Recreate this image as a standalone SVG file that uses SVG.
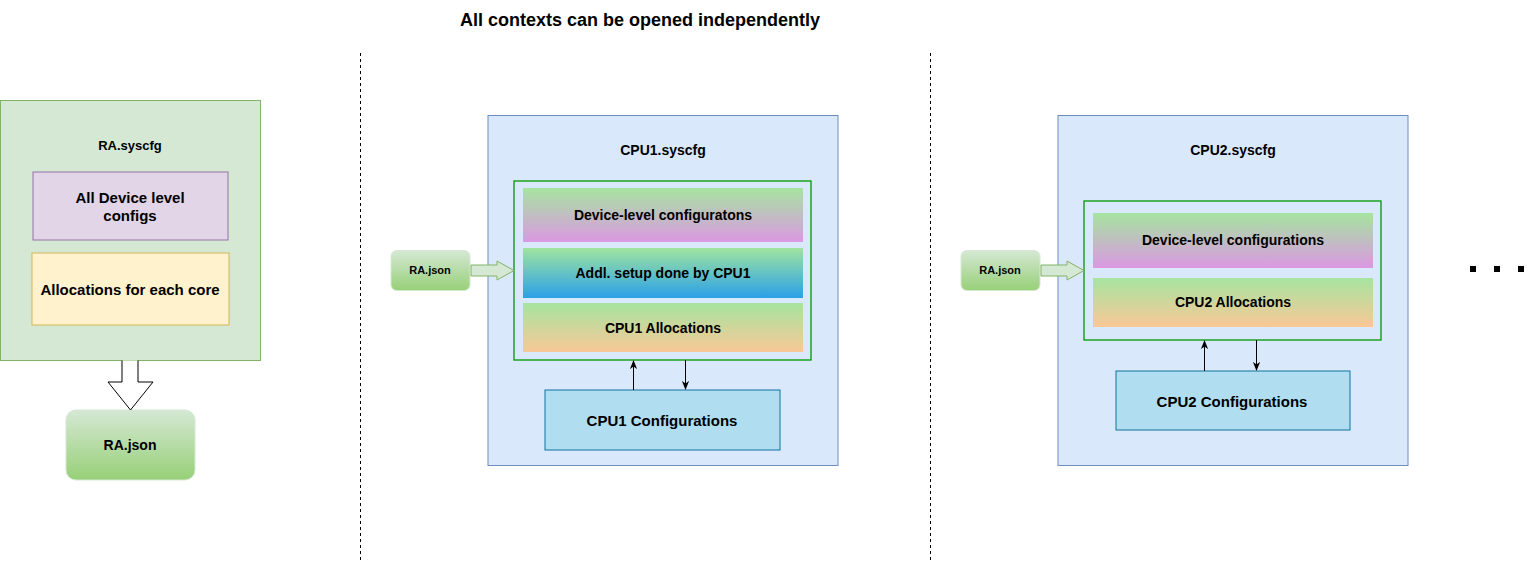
<svg xmlns="http://www.w3.org/2000/svg" width="1535" height="562" viewBox="0 0 1535 562">
<style>
text{font-family:"Liberation Sans",Arial,sans-serif;font-weight:bold;fill:#000;text-anchor:middle;dominant-baseline:central}
.sep{stroke:#000;stroke-width:1;stroke-dasharray:3,3}
.outer{fill:#dae8fc;stroke:#6c8ebf}
.grp{fill:none;stroke:#009900;stroke-width:1.3}
.conf{fill:#b1ddf0;stroke:#10739e}
.conn{stroke:#000;stroke-width:1;fill:none}
.blk{fill:#d5e8d4;stroke:#82b366}
</style>
<defs>
<linearGradient id="gGreen" x1="0" y1="0" x2="0" y2="1"><stop offset="0" stop-color="#d5e8d4"/><stop offset="1" stop-color="#97d077"/></linearGradient>
<linearGradient id="gDev" x1="0" y1="0" x2="0" y2="1"><stop offset="0" stop-color="#a6e4a0"/><stop offset="1" stop-color="#db98e2"/></linearGradient>
<linearGradient id="gAddl" x1="0" y1="0" x2="0" y2="1"><stop offset="0" stop-color="#9fe4a0"/><stop offset="1" stop-color="#2ba0e8"/></linearGradient>
<linearGradient id="gAlloc" x1="0" y1="0" x2="0" y2="1"><stop offset="0" stop-color="#a6e4a0"/><stop offset="1" stop-color="#f9c896"/></linearGradient>
<marker id="ah" viewBox="0 0 10 10" refX="9" refY="5" markerWidth="9" markerHeight="9" markerUnits="userSpaceOnUse" orient="auto"><path d="M0,1 L10,5 L0,9 L3,5 Z" fill="#000"/></marker>
</defs>

<text x="640" y="20" font-size="18">All contexts can be opened independently</text>
<line class="sep" x1="360.5" y1="53" x2="360.5" y2="560"/>
<line class="sep" x1="930.5" y1="53" x2="930.5" y2="560"/>

<g id="ra-syscfg">
<rect x="0.5" y="100.5" width="260" height="260" fill="#d5e8d4" stroke="#82b366"/>
<text x="130" y="145" font-size="13">RA.syscfg</text>
</g>
<g id="all-device">
<rect x="33" y="172" width="195" height="68" fill="#e1d5e7" stroke="#9673a6"/>
<text x="130" y="197" font-size="15">All Device level</text>
<text x="130" y="215" font-size="15">configs</text>
</g>
<g id="allocations-core">
<rect x="32" y="253" width="197" height="72" fill="#fff2cc" stroke="#d6b656"/>
<text x="130" y="289" font-size="15">Allocations for each core</text>
</g>
<g id="ra-json-main">
<rect x="66" y="410" width="129" height="70" rx="10" fill="url(#gGreen)" stroke="#d5e8d4"/>
<text x="130" y="445" font-size="14">RA.json</text>
</g>

<g id="cpu1-syscfg">
<rect class="outer" x="488" y="115.5" width="350" height="350"/>
<text x="663" y="150" font-size="14">CPU1.syscfg</text>
</g>
<g id="cpu1-group">
<rect class="grp" x="514" y="181" width="297" height="179"/>
</g>
<g id="cpu1-device">
<rect x="523" y="188" width="280" height="54" fill="url(#gDev)"/>
<text x="663" y="215" font-size="14">Device-level configuratons</text>
</g>
<g id="cpu1-addl">
<rect x="523" y="248" width="280" height="50" fill="url(#gAddl)"/>
<text x="663" y="273" font-size="14">Addl. setup done by CPU1</text>
</g>
<g id="cpu1-alloc">
<rect x="523" y="303" width="280" height="49" fill="url(#gAlloc)"/>
<text x="663" y="328" font-size="14">CPU1 Allocations</text>
</g>
<g id="cpu1-ra-json">
<rect x="391" y="250.5" width="79" height="40" rx="6" fill="url(#gGreen)" stroke="#d5e8d4"/>
<text x="430" y="270" font-size="11">RA.json</text>
</g>
<g id="cpu1-conf">
<rect class="conf" x="545" y="390" width="235" height="60"/>
<text x="662" y="420" font-size="15">CPU1 Configurations</text>
</g>

<g id="cpu2-syscfg">
<rect class="outer" x="1058" y="115.5" width="350" height="350"/>
<text x="1233" y="150" font-size="14">CPU2.syscfg</text>
</g>
<g id="cpu2-group">
<rect class="grp" x="1084" y="201" width="297" height="139"/>
</g>
<g id="cpu2-device">
<rect x="1093" y="213" width="280" height="55" fill="url(#gDev)"/>
<text x="1233" y="240" font-size="14">Device-level configurations</text>
</g>
<g id="cpu2-alloc">
<rect x="1093" y="278" width="280" height="49" fill="url(#gAlloc)"/>
<text x="1233" y="302" font-size="14">CPU2 Allocations</text>
</g>
<g id="cpu2-ra-json">
<rect x="961" y="250.5" width="79" height="40" rx="6" fill="url(#gGreen)" stroke="#d5e8d4"/>
<text x="1000" y="270" font-size="11">RA.json</text>
</g>
<g id="cpu2-conf">
<rect class="conf" x="1116" y="371" width="234" height="59"/>
<text x="1232" y="401" font-size="15">CPU2 Configurations</text>
</g>

<g id="more">
<rect x="1470" y="266" width="6" height="6" fill="#000"/>
<rect x="1494" y="266" width="6" height="6" fill="#000"/>
<rect x="1518" y="266" width="6" height="6" fill="#000"/>
</g>

<g id="connectors">
<path d="M122,360.5 L122,382 L108,382 L130.5,410 L153,382 L138,382 L138,360.5" fill="#fff" stroke="#000"/>
<path class="blk" d="M471,265 L497,265 L497,261 L514,270.5 L497,280 L497,276 L471,276 Z"/>
<path class="blk" d="M1041,265 L1067,265 L1067,261 L1084,270.5 L1067,280 L1067,276 L1041,276 Z"/>
<line class="conn" x1="633.5" y1="390" x2="633.5" y2="361" marker-end="url(#ah)"/>
<line class="conn" x1="685.5" y1="360" x2="685.5" y2="389" marker-end="url(#ah)"/>
<line class="conn" x1="1204.5" y1="371" x2="1204.5" y2="341" marker-end="url(#ah)"/>
<line class="conn" x1="1256.5" y1="340" x2="1256.5" y2="370" marker-end="url(#ah)"/>
</g>
</svg>
